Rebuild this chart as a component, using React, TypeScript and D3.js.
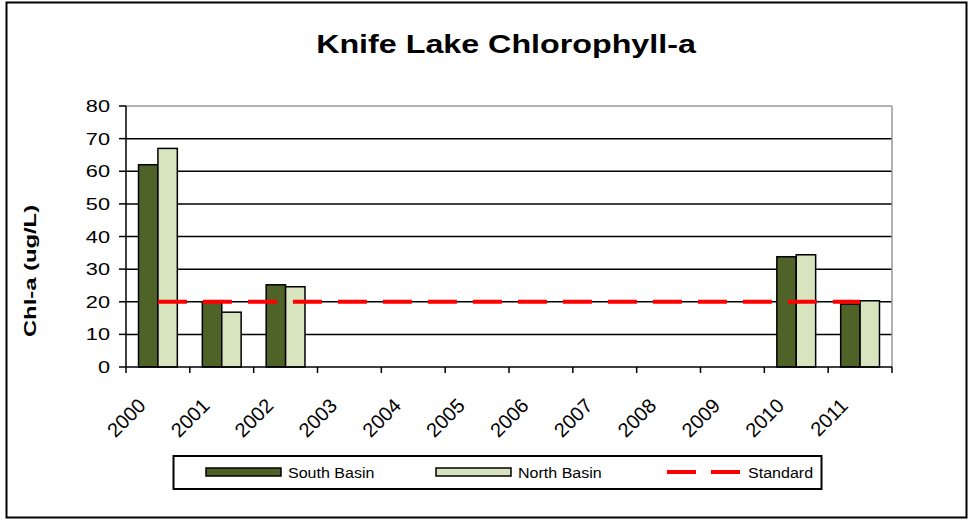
import React from 'react';
import * as d3 from 'd3';

const years = ['2000', '2001', '2002', '2003', '2004', '2005', '2006', '2007', '2008', '2009', '2010', '2011'];
const southBasin: (number | null)[] = [62, 20, 25.2, null, null, null, null, null, null, null, 33.8, 19.3];
const northBasin: (number | null)[] = [67, 16.8, 24.6, null, null, null, null, null, null, null, 34.4, 20.3];
const standard = years.map(() => 20);
const yTicks = [0, 10, 20, 30, 40, 50, 60, 70, 80];

const W = 969;
const H = 521;
const plot = { left: 126, right: 892, top: 106, bottom: 367 };
const SOUTH = '#4F6228';
const NORTH = '#D7E4BD';
const FONT = 'Arial, "Liberation Sans", sans-serif';
// the source picture is stretched sideways, so text gets a matching x scale
const SX = 1.28;

export default function App() {
  const x = d3.scaleBand().domain(years).range([plot.left, plot.right]).paddingInner(0).paddingOuter(0);
  const y = d3.scaleLinear().domain([0, 80]).range([plot.bottom, plot.top]);
  const inner = d3.scaleBand().domain(['s', 'n']).range([0, x.bandwidth()]).paddingInner(0).paddingOuter(0.645);

  const stdLine = d3.line<number>()
    .x((_, i) => (x(years[i]) as number) + x.bandwidth() / 2)
    .y((d) => y(d));

  const bars = [
    { key: 's', values: southBasin, fill: SOUTH },
    { key: 'n', values: northBasin, fill: NORTH },
  ];

  return (
    <svg width={W} height={H} style={{ position: 'absolute', left: 0, top: 0, fontFamily: FONT }}>
      <rect x={0} y={0} width={W} height={H} fill="#fff" />
      <rect x={6.5} y={2.5} width={960} height={515} fill="none" stroke="#000" strokeWidth={2} />

      <text transform={`translate(506 53) scale(1.29 1)`} textAnchor="middle" fontSize={25} fontWeight="bold">Knife Lake Chlorophyll-a</text>

      {/* gridlines */}
      {yTicks.slice(1, -1).map((t) => (
        <line key={t} x1={plot.left} x2={plot.right} y1={y(t)} y2={y(t)} stroke="#000" strokeWidth={1.5} />
      ))}
      {/* plot border top/right */}
      <line x1={plot.left} x2={plot.right} y1={plot.top} y2={plot.top} stroke="#999" strokeWidth={1.5} />
      <line x1={plot.right} x2={plot.right} y1={plot.top} y2={plot.bottom} stroke="#999" strokeWidth={1.5} />

      {/* bars */}
      {bars.map((s) =>
        s.values.map((v, i) =>
          v == null ? null : (
            <rect
              key={s.key + i}
              x={(x(years[i]) as number) + (inner(s.key) as number)}
              y={y(v)}
              width={inner.bandwidth()}
              height={y(0) - y(v)}
              fill={s.fill}
              stroke="#000"
              strokeWidth={1.5}
            />
          )
        )
      )}

      {/* standard */}
      <path d={stdLine(standard) || ''} fill="none" stroke="#FF0000" strokeWidth={4} strokeDasharray="29,16" />

      {/* y axis */}
      <line x1={plot.left} x2={plot.left} y1={plot.top} y2={plot.bottom} stroke="#000" strokeWidth={1.5} />
      {yTicks.map((t) => (
        <g key={t}>
          <line x1={plot.left - 7} x2={plot.left} y1={y(t)} y2={y(t)} stroke="#000" strokeWidth={1.5} />
          <text transform={`translate(110 ${y(t) + 6}) scale(${SX} 1)`} textAnchor="end" fontSize={17}>{t}</text>
        </g>
      ))}

      {/* x axis */}
      <line x1={plot.left} x2={plot.right} y1={plot.bottom} y2={plot.bottom} stroke="#000" strokeWidth={1.5} />
      {[...years.map((yr) => x(yr) as number), plot.right].map((px, i) => (
        <line key={i} x1={px} x2={px} y1={plot.bottom} y2={plot.bottom + 6} stroke="#000" strokeWidth={1.5} />
      ))}
      {years.map((yr) => {
        const cx = (x(yr) as number) + x.bandwidth() / 2 - 11;
        const cy = 407;
        return (
          <text key={yr} textAnchor="end" fontSize={20} transform={`translate(${cx} ${cy}) rotate(-45)`}>{yr}</text>
        );
      })}

      <text transform="translate(35.5 271) rotate(-90) scale(1.4 1)" textAnchor="middle" fontSize={17} fontWeight="bold">Chl-a (ug/L)</text>

      {/* legend */}
      <rect x={173.5} y={456} width={648} height={33} fill="#fff" stroke="#000" strokeWidth={2} />
      <rect x={206} y={468} width={75} height={8} fill={SOUTH} stroke="#000" strokeWidth={1.5} />
      <text transform="translate(288 477.5) scale(1.07 1)" fontSize={15}>South Basin</text>
      <rect x={436} y={468} width={75} height={8} fill={NORTH} stroke="#000" strokeWidth={1.5} />
      <text transform="translate(518 477.5) scale(1.07 1)" fontSize={15}>North Basin</text>
      <line x1={667} x2={740} y1={472} y2={472} stroke="#FF0000" strokeWidth={4} strokeDasharray="29,15" />
      <text transform="translate(748 477.5) scale(1.07 1)" fontSize={15}>Standard</text>
    </svg>
  );
}
